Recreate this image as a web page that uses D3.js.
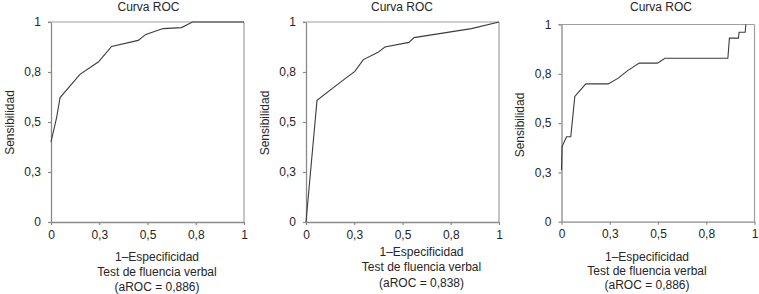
<!DOCTYPE html>
<html>
<head>
<meta charset="utf-8">
<script src="https://cdn.jsdelivr.net/npm/d3@7"></script>
<style>
  html, body { margin: 0; padding: 0; background: #fff; }
  svg { display: block; font-family: "Liberation Sans", Arial, sans-serif; }
</style>
</head>
<body>
<svg id="chart" width="759" height="294"></svg>
<script>
// ---- data ----
const tickValues = [0, 0.25, 0.5, 0.75, 1];
const tickLabels = ["0", "0,3", "0,5", "0,8", "1"];
const titles = ["Curva ROC", "Curva ROC", "Curva ROC"];
const yTitles = ["Sensibilidad", "Sensibilidad", "Sensibilidad"];
const xTitleLine1 = ["1–Especificidad", "1–Especificidad", "1–Especificidad"];
const xTitleLine2 = ["Test de fluencia verbal", "Test de fluencia verbal", "Test de fluencia verbal"];
const aucLabels = ["(aROC = 0,886)", "(aROC = 0,838)", "(aROC = 0,886)"];

const roc1X = [0, 0.029, 0.047, 0.15, 0.245, 0.314, 0.452, 0.491, 0.581, 0.676, 0.733, 1];
const roc1Y = [0.40, 0.522, 0.622, 0.738, 0.80, 0.878, 0.908, 0.938, 0.967, 0.972, 1.0, 1.0];

const roc2X = [0, 0.057, 0.184, 0.253, 0.297, 0.371, 0.409, 0.533, 0.560, 0.857, 1];
const roc2Y = [0, 0.608, 0.703, 0.753, 0.812, 0.847, 0.875, 0.898, 0.922, 0.967, 1];

const roc3X = [0, 0.003, 0.026, 0.048, 0.069, 0.126, 0.242, 0.294, 0.341, 0.403, 0.497, 0.536, 0.862, 0.870, 0.917, 0.920, 0.952, 0.955];
const roc3Y = [0.262, 0.381, 0.431, 0.431, 0.635, 0.699, 0.699, 0.728, 0.765, 0.804, 0.804, 0.829, 0.829, 0.931, 0.931, 0.961, 0.961, 1.0];

const seriesX = [roc1X, roc2X, roc3X];
const seriesY = [roc1Y, roc2Y, roc3Y];

// ---- layout ----
const panels = [
  { x0: 51,    x1: 244,   y0: 22,   y1: 222,   titleX: 148.5, titleY: 10.5, yTitleX: 10,    yTitleY: 122.5, xtX: 157,   xtY: [261, 276, 290.5] },
  { x0: 306,   x1: 499,   y0: 22,   y1: 222,   titleX: 402,   titleY: 10.5, yTitleX: 264.5, yTitleY: 123,   xtX: 421.5, xtY: [256, 271, 287] },
  { x0: 561.5, x1: 754.5, y0: 24.5, y1: 221.7, titleX: 661,   titleY: 11,   yTitleX: 519.5, yTitleY: 125,   xtX: 647,   xtY: [260.5, 274.5, 289] }
];

const svg = d3.select("#chart");
const axisColor = "#8a8a8a";
const lineColor = "#3c3c3c";
const fontSize = 12;
const textColor = "#262626";

panels.forEach((p, i) => {
  const x = d3.scaleLinear().domain([0, 1]).range([p.x0, p.x1]);
  const y = d3.scaleLinear().domain([0, 1]).range([p.y1, p.y0]);
  const g = svg.append("g");

  // box top & right
  g.append("line").attr("x1", x(0) - 3).attr("x2", x(1)).attr("y1", y(1)).attr("y2", y(1))
    .attr("stroke", "#a0a0a0").attr("stroke-width", 1.2);
  g.append("line").attr("x1", x(1)).attr("x2", x(1)).attr("y1", y(1)).attr("y2", y(0))
    .attr("stroke", "#a0a0a0").attr("stroke-width", 1.2);

  // axes
  const xAxis = d3.axisBottom(x).tickValues(tickValues).tickFormat((d, k) => tickLabels[k]).tickSizeInner(3).tickSizeOuter(0).tickPadding(5);
  const yAxis = d3.axisLeft(y).tickValues(tickValues).tickFormat((d, k) => tickLabels[k]).tickSizeInner(3).tickSizeOuter(0).tickPadding(7);

  const gx = g.append("g").attr("transform", `translate(0,${y(0)})`).call(xAxis);
  const gy = g.append("g").attr("transform", `translate(${x(0)},0)`).call(yAxis);
  [gx, gy].forEach(a => {
    a.select(".domain").attr("stroke", axisColor).attr("stroke-width", 1.3);
    a.selectAll(".tick line").attr("stroke", axisColor).attr("stroke-width", 1.2);
    a.selectAll(".tick text").attr("fill", textColor)
      .attr("font-size", fontSize).attr("font-family", "Liberation Sans, Arial, sans-serif");
  });

  // curve
  const pts = seriesX[i].map((v, k) => [v, seriesY[i][k]]);
  const line = d3.line().x(d => x(d[0])).y(d => y(d[1]));
  g.append("path").datum(pts).attr("d", line)
    .attr("fill", "none").attr("stroke", lineColor).attr("stroke-width", 1.1);

  // titles
  g.append("text").attr("x", p.titleX).attr("y", p.titleY).attr("text-anchor", "middle")
    .attr("font-size", fontSize).attr("fill", textColor).text(titles[i]);
  g.append("text").attr("transform", `translate(${p.yTitleX + 4},${p.yTitleY}) rotate(-90)`)
    .attr("text-anchor", "middle").attr("font-size", fontSize).attr("fill", textColor).text(yTitles[i]);
  [xTitleLine1[i], xTitleLine2[i], aucLabels[i]].forEach((t, k) => {
    g.append("text").attr("x", p.xtX).attr("y", p.xtY[k]).attr("text-anchor", "middle")
      .attr("font-size", fontSize).attr("fill", textColor).text(t);
  });
});
</script>
</body>
</html>
